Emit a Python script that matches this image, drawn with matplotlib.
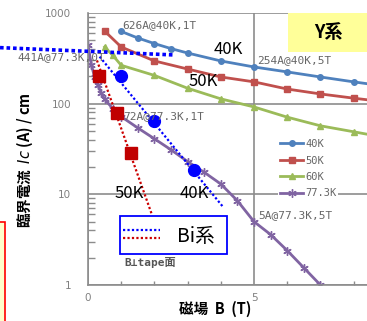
import matplotlib.pyplot as plt
from matplotlib.patches import Rectangle
from matplotlib.lines import Line2D

plt.rcParams['font.family'] = ['Noto Sans CJK JP', 'DejaVu Sans']

W, H = 367, 321

# Y系 tape: critical current vs field
b_40 = [1, 1.5, 2, 2.5, 3, 4, 5, 6, 7, 8, 9, 10]
ic_40 = [626, 530, 460, 405, 362, 296, 254, 224, 197, 174, 155, 140]
b_50 = [0.5, 1, 2, 3, 4, 5, 6, 7, 8, 9, 10]
ic_50 = [632, 422, 296, 241, 197, 174, 145, 128, 115, 104, 95]
b_60 = [0.5, 0.75, 1, 2, 3, 4, 5, 6, 7, 8, 9, 10]
ic_60 = [422, 340, 265, 205, 148, 113, 92, 71, 57, 49, 42, 36]
b_77 = [0, 0.1, 0.2, 0.3, 0.4, 0.5, 0.75, 1, 1.5, 2, 2.5, 3, 3.5, 4, 4.5, 5, 5.5, 6, 6.5, 7]
ic_77 = [441, 270, 195, 160, 130, 112, 88, 72, 54, 41, 31, 23, 17.5, 13, 8.5, 5, 3.6, 2.4, 1.55, 1.0]

# Bi系 tape points and guide lines
bi_b_40 = [1.0, 2.0, 3.2]
bi_ic_40 = [200, 65, 18.5]
bi_b_50 = [0.33, 0.87, 1.3]
bi_ic_50 = [200, 79, 28.5]
guide_b_40 = [0.35, 4.05]
guide_ic_40 = [330, 7.4]
guide_b_50 = [0.27, 1.93]
guide_ic_50 = [300, 5.9]
guide_b_top = [-2.65, 2.56]
guide_ic_top = [415, 345]


def px(x, y):
    return x / W, 1 - y / H


fig = plt.figure(figsize=(W / 100, H / 100), dpi=100)
ax = fig.add_axes([88 / W, 36 / H, 332 / W, 272 / H])

grey = '#8c8c8c'
l40, = ax.plot(b_40, ic_40, color='#4F81BD', lw=2, marker='o', ms=4, label='40K')
l50, = ax.plot(b_50, ic_50, color='#C0504D', lw=2, marker='s', ms=5, label='50K')
l60, = ax.plot(b_60, ic_60, color='#9BBB59', lw=2, marker='^', ms=4.5, label='60K')
l77, = ax.plot(b_77, ic_77, color='#8064A2', lw=2, marker=(6, 2, 0), ms=6, mew=1, label='77.3K')

dot = (0, (1, 1))
ax.plot(guide_b_40, guide_ic_40, color='#0000FF', lw=1.6, ls=dot, zorder=5)
ax.plot(guide_b_50, guide_ic_50, color='#CC0000', lw=1.6, ls=dot, zorder=5)
ax.plot(guide_b_top, guide_ic_top, color='#0000FF', lw=2.6, ls=(0, (1, 0.8)),
        clip_on=False, zorder=6)
ax.plot(bi_b_40, bi_ic_40, ls='none', marker='o', ms=8.5, color='#0000FF', zorder=6)
ax.plot(bi_b_50, bi_ic_50, ls='none', marker='s', ms=8.5, color='#C00000', zorder=6)

ax.set_yscale('log')
ax.set_xlim(0, 10)
ax.set_ylim(1, 1000)
ax.set_xticks([0, 5, 10])
ax.set_xticklabels(['0', '5', ''])
ax.set_xticks([1, 2, 3, 4, 6, 7, 8, 9], minor=True)
ax.set_yticks([1, 10, 100, 1000])
ax.set_yticklabels(['1', '10', '100', '1000'])
ax.grid(True, which='major', color=grey, lw=1.2)
for s in ['top', 'right']:
    ax.spines[s].set_visible(False)
for s in ['left', 'bottom']:
    ax.spines[s].set_color(grey)
    ax.spines[s].set_linewidth(1.2)
ax.tick_params(which='both', direction='in', color=grey)
ax.tick_params(which='major', length=0, labelsize=7.5, labelcolor='#808080')
ax.tick_params(axis='y', which='major', pad=12)
ax.tick_params(axis='x', which='major', pad=6)
ax.tick_params(axis='y', which='minor', length=5, width=1)
ax.tick_params(axis='x', which='minor', length=3, width=1)
for t in ax.get_xticklabels() + ax.get_yticklabels():
    t.set_family('DejaVu Sans')

# value notes
note = dict(fontsize=8, color='#666666', family='DejaVu Sans Mono', va='center')
fig.text(*px(122, 25), '626A@40K,1T', **note)
fig.text(*px(257, 60), '254A@40K,5T', **note)
fig.text(*px(105, 57), '441A@77.3K,0T', ha='right', **note)
fig.text(*px(123, 116), '72A@77.3K,1T', **note)
fig.text(*px(258, 215), '5A@77.3K,5T', **note)

lab = dict(fontsize=12, color='black', ha='center', va='center')
fig.text(*px(228, 50), '40K', **lab)
fig.text(*px(203, 82), '50K', **lab)
fig.text(*px(129, 193), '50K', **lab)
fig.text(*px(194, 193), '40K', **lab)

# Y系 tag
fig.add_artist(Rectangle(px(288, 52), 90 / W, 39 / H, transform=fig.transFigure,
                         facecolor='#FFFF99', edgecolor='none', zorder=3))
fig.text(*px(328, 32), 'Y系', fontsize=13, fontweight='bold', ha='center',
         va='center', zorder=4)

# Bi系 key box
fig.add_artist(Rectangle(px(120, 254), 107 / W, 38 / H, transform=fig.transFigure,
                         facecolor='white', edgecolor='#0000FF', lw=1.3, zorder=7))
for yy, c in [(230, '#0000FF'), (238, '#CC0000')]:
    x0, y0 = px(123, yy)
    x1, _ = px(160, yy)
    fig.add_artist(Line2D([x0, x1], [y0, y0], transform=fig.transFigure, color=c,
                          lw=1.6, ls=dot, zorder=8))
fig.text(*px(196, 236), 'Bi系', fontsize=14, ha='center', va='center', zorder=8)
fig.text(*px(124, 262), 'B⊥tape面', fontsize=8, color='#555555', va='center',
         fontweight='bold', family=['DejaVu Sans Mono', 'Noto Sans CJK JP'])

# Y系 legend
leg = fig.legend(handles=[l40, l50, l60, l77], loc='upper left',
                 bbox_to_anchor=px(278, 137), frameon=True,
                 handlelength=2.2, handletextpad=0.2, labelspacing=0.62,
                 borderpad=0.2, borderaxespad=0,
                 prop={'family': 'DejaVu Sans Mono', 'size': 7.5})
leg.get_frame().set_edgecolor('none')
leg.get_frame().set_facecolor('white')
leg.get_frame().set_alpha(1)
for t in leg.get_texts():
    t.set_color('#666666')

# axis titles
fig.text(*px(25, 160), '臨界電流  $\\mathit{Ic}$ (A) / cm', rotation=90, fontsize=10.5,
         fontweight='bold', ha='center', va='center')
fig.text(*px(215, 309), '磁場  B  (T)', fontsize=10.5, fontweight='bold',
         ha='center', va='center')

# framed note at the left edge
fig.add_artist(Rectangle(px(-10, 330), 15 / W, 108 / H, transform=fig.transFigure,
                         facecolor='#FFFFCC', edgecolor='#FF0000', lw=1.2, zorder=3))

fig.savefig('out.png', dpi=100)
